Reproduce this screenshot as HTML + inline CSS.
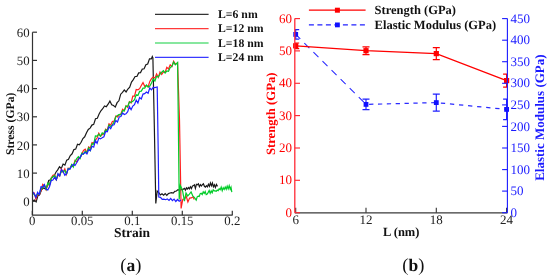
<!DOCTYPE html><html><head><meta charset="utf-8"><style>html,body{margin:0;padding:0;background:#fff;}svg{display:block;will-change:transform;}text{font-family:"Liberation Serif",serif;text-rendering:geometricPrecision;}</style></head><body>
<svg width="550" height="279" viewBox="0 0 550 279">
<rect width="550" height="279" fill="#fff"/>
<g fill="none" stroke-width="1.2" stroke-linejoin="miter">
<polyline stroke="#1a1a1a" points="32.5,201.0 34.3,200.0 36.1,201.8 37.9,195.8 39.7,194.7 41.5,189.8 43.3,188.0 45.1,188.8 46.9,186.7 48.7,180.5 50.5,179.8 52.3,177.2 54.1,175.9 55.9,172.2 57.7,169.9 59.5,166.7 61.3,168.4 63.1,164.1 64.9,165.1 66.7,160.1 68.5,159.2 70.3,155.5 72.1,153.8 73.9,149.6 75.7,149.1 77.5,144.3 79.3,144.9 81.1,142.3 82.9,138.5 84.7,136.8 86.5,132.8 88.3,129.5 90.1,128.1 91.9,125.1 93.7,124.4 95.5,118.8 97.3,118.2 99.1,113.9 100.9,110.8 102.7,108.7 104.5,105.9 106.3,106.7 108.1,104.2 109.9,101.0 111.7,104.7 113.5,105.5 115.3,107.1 117.1,102.7 118.9,100.8 120.7,94.2 122.5,92.4 124.3,90.0 126.1,91.9 127.9,89.0 129.7,87.1 131.5,82.1 133.3,79.6 135.1,76.5 136.9,76.5 138.7,72.9 140.5,72.6 142.3,69.1 144.1,68.8 145.9,64.8 147.7,64.0 149.5,58.9 151.3,58.9 152.3,56.6 152.9,58.0 154.4,130.0 155.8,203.5 157.2,191.0 158.8,192.7 160.4,195.0 162.0,193.8 163.6,195.1 165.2,193.5 166.8,195.3 168.4,193.6 170.0,193.0 171.6,192.6 173.2,193.1 174.8,191.4 176.4,191.0 178.0,189.6 179.6,190.4 181.2,189.3 182.8,189.5 184.4,188.3 185.4,190.2 186.4,187.9 187.4,189.0 188.4,187.6 189.4,188.8 190.4,186.8 191.4,188.6 192.4,186.2 193.4,185.6 194.4,184.8 195.4,188.4 196.4,184.3 197.4,184.8 198.4,183.9 199.4,186.7 200.4,184.6 201.4,186.0 202.4,184.6 203.4,183.7 204.4,186.3 205.4,187.1 206.4,185.7 207.4,186.9 208.4,184.3 209.4,186.3 210.4,183.0 211.4,185.7 212.4,183.0 213.4,186.7 214.4,184.7 215.4,187.4 216.4,184.4 217.5,186.4"/>
<polyline stroke="#ff2020" points="32.5,193.0 34.2,192.8 35.9,199.0 37.6,194.2 39.3,195.0 41.0,190.8 42.7,184.4 44.4,185.8 46.1,189.7 47.8,184.4 49.5,185.4 51.2,178.1 52.9,175.2 54.6,174.8 56.3,179.8 58.0,175.3 59.7,175.9 61.4,169.1 63.1,172.2 64.8,168.9 66.5,174.3 68.2,168.1 69.9,168.5 71.6,165.3 73.3,166.1 75.0,160.3 76.7,161.9 78.4,158.4 80.1,158.0 81.8,153.9 83.5,150.5 85.2,149.2 86.9,152.6 88.6,147.0 90.3,148.1 92.0,142.6 93.7,143.4 95.4,140.2 97.1,138.0 98.8,133.2 100.5,136.2 102.2,134.6 103.9,133.7 105.6,129.1 107.3,130.2 109.0,123.7 110.7,125.1 112.4,121.6 114.1,121.1 115.8,116.0 117.5,116.9 119.2,114.9 120.9,113.9 122.6,109.3 124.3,110.8 126.0,105.8 127.7,107.4 129.4,101.7 131.1,103.0 132.8,96.1 134.5,96.1 136.2,89.5 137.9,89.8 139.6,88.7 141.3,85.5 143.0,82.6 144.7,86.3 146.4,85.4 148.1,87.0 149.8,81.4 151.5,78.6 153.2,77.1 154.9,78.2 156.6,74.0 158.3,77.4 160.0,72.0 161.7,74.4 163.4,71.9 165.1,72.5 166.8,67.3 168.5,68.9 170.2,64.8 171.9,66.6 173.6,61.2 175.3,64.0 177.6,63.1 179.5,120.0 181.1,208.5 182.8,199.2 184.5,199.0 186.2,196.1 187.9,201.9 189.6,198.1 191.3,197.9 193.0,196.8 194.2,199.5"/>
<polyline stroke="#00cc28" points="32.5,193.5 34.2,194.3 35.9,196.5 37.6,194.0 39.3,194.3 41.0,188.3 42.7,187.8 44.4,185.0 46.1,189.4 47.8,183.2 49.5,184.8 51.2,178.0 52.9,176.7 54.6,175.4 56.3,179.6 58.0,174.3 59.7,175.4 61.4,171.5 63.1,171.6 64.8,170.5 66.5,173.9 68.2,168.5 69.9,169.1 71.6,164.5 73.3,167.1 75.0,161.6 76.7,158.7 78.4,156.6 80.1,158.5 81.8,153.1 83.5,154.1 85.2,151.1 86.9,152.7 88.6,147.8 90.3,150.5 92.0,143.8 93.7,144.1 95.4,135.9 97.1,136.2 98.8,134.1 100.5,136.2 102.2,132.8 103.9,134.0 105.6,129.8 107.3,130.6 109.0,125.1 110.7,126.7 112.4,124.7 114.1,122.2 115.8,116.8 117.5,115.4 119.2,114.5 120.9,114.9 122.6,110.6 124.3,110.8 126.0,106.1 127.7,106.4 129.4,102.0 131.1,102.4 132.8,101.3 134.5,99.6 136.2,94.8 137.9,95.4 139.6,91.4 141.3,91.1 143.0,88.1 144.7,88.2 146.4,85.1 148.1,87.0 149.8,86.0 151.5,83.1 153.2,78.9 154.9,81.0 156.6,76.3 158.3,77.0 160.0,74.1 161.7,72.2 163.4,70.6 165.1,73.1 166.8,71.0 168.5,71.3 170.2,67.4 171.9,66.4 173.6,62.1 175.3,64.8 177.6,62.5 178.4,130.0 179.2,199.5 180.3,185.5 182.0,188.9 182.7,191.3 184.4,201.1 186.0,192.9 187.7,195.9 189.4,194.2 191.1,191.9 192.8,195.9 194.5,197.6 196.2,200.1 197.2,196.8 198.2,196.1 199.2,196.4 200.2,193.7 201.2,193.3 202.2,194.6 203.2,191.9 204.2,193.4 205.2,191.6 206.2,194.6 207.2,194.0 208.2,192.4 209.2,190.5 210.2,193.4 211.2,190.9 212.2,192.8 213.2,189.9 214.2,190.8 215.2,190.9 216.2,191.3 217.2,190.1 218.2,190.6 219.2,188.8 220.2,189.7 221.2,187.1 222.2,190.7 223.2,187.7 224.2,189.5 225.2,187.1 226.2,189.3 227.2,186.2 228.2,188.9 229.2,185.7 230.2,189.2 231.0,187.2 231.8,192.1"/>
<polyline stroke="#2020ff" points="32.5,191.6 34.2,193.9 35.9,197.4 37.6,192.3 39.3,194.5 41.0,186.8 42.7,187.1 44.4,184.6 46.1,189.2 47.8,189.9 49.5,186.8 51.2,180.7 52.9,180.0 54.6,177.4 56.3,179.8 58.0,173.7 59.7,176.0 61.4,169.6 63.1,171.4 64.8,175.2 66.5,173.8 68.2,168.9 69.9,169.1 71.6,166.2 73.3,164.4 75.0,165.5 76.7,162.8 78.4,159.7 80.1,157.4 81.8,154.4 83.5,153.7 85.2,152.3 86.9,153.9 88.6,149.9 90.3,150.6 92.0,146.3 93.7,147.2 95.4,140.6 97.1,143.4 98.8,138.0 100.5,138.9 102.2,137.7 103.9,136.8 105.6,131.5 107.3,131.8 109.0,126.9 110.7,128.7 112.4,125.1 114.1,124.8 115.8,120.6 117.5,122.0 119.2,117.0 120.9,116.6 122.6,113.0 124.3,114.5 126.0,113.8 127.7,111.6 129.4,106.6 131.1,109.7 132.8,106.1 134.5,104.6 136.2,100.1 137.9,103.0 139.6,97.5 141.3,98.9 143.0,94.1 144.7,93.6 146.4,92.1 148.1,93.2 149.8,87.9 151.5,89.8 153.2,87.4 154.9,87.6 157.2,87.0 158.2,150.0 158.8,197.0 160.5,197.3 162.2,199.4 163.9,199.1 165.6,199.7 167.3,198.9 169.0,200.5 170.7,198.5 172.4,200.7 174.1,199.1 175.8,201.5 177.5,199.5 179.2,201.2 181.0,200.0"/>
</g>
<g stroke="#333" stroke-width="1.2" fill="none">
<path d="M32.5,32.2 V215.2 H232.5"/>
<path d="M32.5,201.3 h4.5"/>
<path d="M32.5,173.1 h4.5"/>
<path d="M32.5,144.9 h4.5"/>
<path d="M32.5,116.8 h4.5"/>
<path d="M32.5,88.6 h4.5"/>
<path d="M32.5,60.4 h4.5"/>
<path d="M32.5,32.2 h4.5"/>
<path d="M32.3,215.2 v-4.5"/>
<path d="M82.3,215.2 v-4.5"/>
<path d="M132.3,215.2 v-4.5"/>
<path d="M182.3,215.2 v-4.5"/>
<path d="M232.3,215.2 v-4.5"/>
</g>
<g font-size="12.8" fill="#222" text-anchor="end">
<text x="29.6" y="205.9">0</text>
<text x="29.6" y="177.7">10</text>
<text x="29.6" y="149.5">20</text>
<text x="29.6" y="121.4">30</text>
<text x="29.6" y="93.2">40</text>
<text x="29.6" y="65.0">50</text>
<text x="29.6" y="36.8">60</text>
</g>
<g font-size="12.8" fill="#222" text-anchor="middle">
<text x="32.3" y="224.8">0</text>
<text x="82.3" y="224.8">0.05</text>
<text x="132.3" y="224.8">0.1</text>
<text x="182.3" y="224.8">0.15</text>
<text x="232.3" y="224.8">0.2</text>
</g>
<text x="132.1" y="237" font-size="13.5" font-weight="bold" text-anchor="middle" fill="#111">Strain</text>
<text transform="translate(14.0,123.8) rotate(-90)" font-size="11.7" font-weight="bold" text-anchor="middle" fill="#111">Stress (GPa)</text>
<path d="M155,14.3 H208.6" stroke="#333" stroke-width="1.2"/>
<text x="218" y="17.9" font-size="11.75" font-weight="bold" fill="#111">L=6 nm</text>
<path d="M155,28.6 H208.6" stroke="#ff3a3a" stroke-width="1.2"/>
<text x="218" y="32.2" font-size="11.75" font-weight="bold" fill="#111">L=12 nm</text>
<path d="M155,43.0 H208.6" stroke="#10d040" stroke-width="1.2"/>
<text x="218" y="46.6" font-size="11.75" font-weight="bold" fill="#111">L=18 nm</text>
<path d="M155,57.3 H208.6" stroke="#3a3aff" stroke-width="1.2"/>
<text x="218" y="60.9" font-size="11.75" font-weight="bold" fill="#111">L=24 nm</text>
<defs><clipPath id="rc"><rect x="294.8" y="0" width="212.4" height="213"/></clipPath></defs>
<g clip-path="url(#rc)">
<path d="M295.7,34.4 L366.0,104.4" fill="none" stroke="#2a2aff" stroke-width="1.05" stroke-dasharray="7.1 5.7" stroke-dashoffset="0.6"/>
<path d="M366.0,104.4 L436.3,102.6" fill="none" stroke="#2a2aff" stroke-width="1.2" stroke-dasharray="4.3 4.56" stroke-dashoffset="5.76"/>
<path d="M436.3,102.6 L506.6,109.4" fill="none" stroke="#2a2aff" stroke-width="1.2" stroke-dasharray="4.3 4.8" stroke-dashoffset="4.5"/>
<polyline points="295.7,45.8 366.0,50.7 436.3,53.6 506.6,80.6" fill="none" stroke="#ff0000" stroke-width="1.3"/>
<path d="M295.7,29.7 V39.1 M292.2,29.7 h7 M292.2,39.1 h7" stroke="#2020ff" stroke-width="1.2" fill="none"/>
<path d="M366.0,99.2 V109.6 M362.5,99.2 h7 M362.5,109.6 h7" stroke="#2020ff" stroke-width="1.2" fill="none"/>
<path d="M436.3,94.1 V111.1 M432.8,94.1 h7 M432.8,111.1 h7" stroke="#2020ff" stroke-width="1.2" fill="none"/>
<path d="M506.6,99.2 V119.6 M503.1,99.2 h7 M503.1,119.6 h7" stroke="#2020ff" stroke-width="1.2" fill="none"/>
<path d="M295.7,43.0 V48.6 M292.2,43.0 h7 M292.2,48.6 h7" stroke="#ff0000" stroke-width="1.2" fill="none"/>
<path d="M366.0,46.8 V54.6 M362.5,46.8 h7 M362.5,54.6 h7" stroke="#ff0000" stroke-width="1.2" fill="none"/>
<path d="M436.3,47.6 V59.6 M432.8,47.6 h7 M432.8,59.6 h7" stroke="#ff0000" stroke-width="1.2" fill="none"/>
<path d="M506.6,74.1 V87.1 M503.1,74.1 h7 M503.1,87.1 h7" stroke="#ff0000" stroke-width="1.2" fill="none"/>
</g>
<rect x="293.3" y="32.0" width="4.8" height="4.8" fill="#1010ff"/>
<rect x="363.6" y="102.0" width="4.8" height="4.8" fill="#1010ff"/>
<rect x="433.9" y="100.2" width="4.8" height="4.8" fill="#1010ff"/>
<rect x="504.2" y="107.0" width="4.8" height="4.8" fill="#1010ff"/>
<rect x="293.1" y="43.2" width="5.2" height="5.2" fill="#ff0000"/>
<rect x="363.4" y="48.1" width="5.2" height="5.2" fill="#ff0000"/>
<rect x="433.7" y="51.0" width="5.2" height="5.2" fill="#ff0000"/>
<rect x="504.0" y="78.0" width="5.2" height="5.2" fill="#ff0000"/>
<path d="M294.8,212.9 H507.4" stroke="#3a3a3a" stroke-width="1.4"/>
<path d="M295.7,212.7 v-5" stroke="#333" stroke-width="1.1"/>
<path d="M366.0,212.7 v-5" stroke="#333" stroke-width="1.1"/>
<path d="M436.3,212.7 v-5" stroke="#333" stroke-width="1.1"/>
<path d="M506.6,212.7 v-5" stroke="#333" stroke-width="1.1"/>
<path d="M294.8,18.6 V212.7" stroke="#ff2a35" stroke-width="1.3"/>
<path d="M294.8,212.7 h5.2" stroke="#ff2a35" stroke-width="1.15"/>
<path d="M294.8,180.3 h5.2" stroke="#ff2a35" stroke-width="1.15"/>
<path d="M294.8,148.0 h5.2" stroke="#ff2a35" stroke-width="1.15"/>
<path d="M294.8,115.6 h5.2" stroke="#ff2a35" stroke-width="1.15"/>
<path d="M294.8,83.3 h5.2" stroke="#ff2a35" stroke-width="1.15"/>
<path d="M294.8,50.9 h5.2" stroke="#ff2a35" stroke-width="1.15"/>
<path d="M294.8,18.6 h5.2" stroke="#ff2a35" stroke-width="1.15"/>
<path d="M507.4,18.6 V212.7" stroke="#1a1aff" stroke-width="1.1"/>
<path d="M507.4,212.7 h-5.3" stroke="#1a1aff" stroke-width="1.1"/>
<path d="M507.4,191.1 h-5.3" stroke="#1a1aff" stroke-width="1.1"/>
<path d="M507.4,169.6 h-5.3" stroke="#1a1aff" stroke-width="1.1"/>
<path d="M507.4,148.0 h-5.3" stroke="#1a1aff" stroke-width="1.1"/>
<path d="M507.4,126.4 h-5.3" stroke="#1a1aff" stroke-width="1.1"/>
<path d="M507.4,104.9 h-5.3" stroke="#1a1aff" stroke-width="1.1"/>
<path d="M507.4,83.3 h-5.3" stroke="#1a1aff" stroke-width="1.1"/>
<path d="M507.4,61.7 h-5.3" stroke="#1a1aff" stroke-width="1.1"/>
<path d="M507.4,40.2 h-5.3" stroke="#1a1aff" stroke-width="1.1"/>
<path d="M507.4,18.6 h-5.3" stroke="#1a1aff" stroke-width="1.1"/>
<g font-size="13" fill="#ff0000" text-anchor="end">
<text x="292" y="216.8">0</text>
<text x="292" y="184.4">10</text>
<text x="292" y="152.1">20</text>
<text x="292" y="119.7">30</text>
<text x="292" y="87.4">40</text>
<text x="292" y="55.0">50</text>
<text x="292" y="22.7">60</text>
</g>
<g font-size="13" fill="#1a1aff">
<text x="510.5" y="216.8">0</text>
<text x="510.5" y="195.2">50</text>
<text x="510.5" y="173.7">100</text>
<text x="510.5" y="152.1">150</text>
<text x="510.5" y="130.5">200</text>
<text x="510.5" y="109.0">250</text>
<text x="510.5" y="87.4">300</text>
<text x="510.5" y="65.8">350</text>
<text x="510.5" y="44.3">400</text>
<text x="510.5" y="22.7">450</text>
</g>
<g font-size="13" fill="#222" text-anchor="middle">
<text x="295.7" y="223.7">6</text>
<text x="366.0" y="223.7">12</text>
<text x="436.3" y="223.7">18</text>
<text x="506.6" y="223.7">24</text>
</g>
<text x="401.2" y="236.1" font-size="12.5" font-weight="bold" text-anchor="middle" fill="#111">L (nm)</text>
<text transform="translate(275.2,113.8) rotate(-90)" font-size="12.7" font-weight="bold" text-anchor="middle" fill="#ff0000">Strength (GPa)</text>
<text transform="translate(543.6,117.6) rotate(-90)" font-size="13" font-weight="bold" text-anchor="middle" fill="#1a1aff">Elastic Modulus (GPa)</text>
<path d="M308.9,10.2 H365.6" stroke="#ff0000" stroke-width="1.3"/>
<rect x="334.9" y="7.7" width="5" height="5" fill="#ff0000"/>
<path d="M308.9,24.9 H365.6" stroke="#2020ff" stroke-width="1.2" stroke-dasharray="5 3.5"/>
<rect x="335" y="22.5" width="4.8" height="4.8" fill="#1010ff"/>
<text x="374.6" y="13.9" font-size="12.5" font-weight="bold" fill="#111">Strength (GPa)</text>
<text x="374.6" y="28.7" font-size="12.5" font-weight="bold" fill="#111">Elastic Modulus (GPa)</text>
<text x="130.8" y="270.8" font-size="18.5" text-anchor="middle" fill="#111">(<tspan font-weight="bold" font-size="17.5">a</tspan>)</text>
<text x="413.3" y="270.8" font-size="18.5" text-anchor="middle" fill="#111">(<tspan font-weight="bold" font-size="17.5">b</tspan>)</text>
</svg></body></html>
